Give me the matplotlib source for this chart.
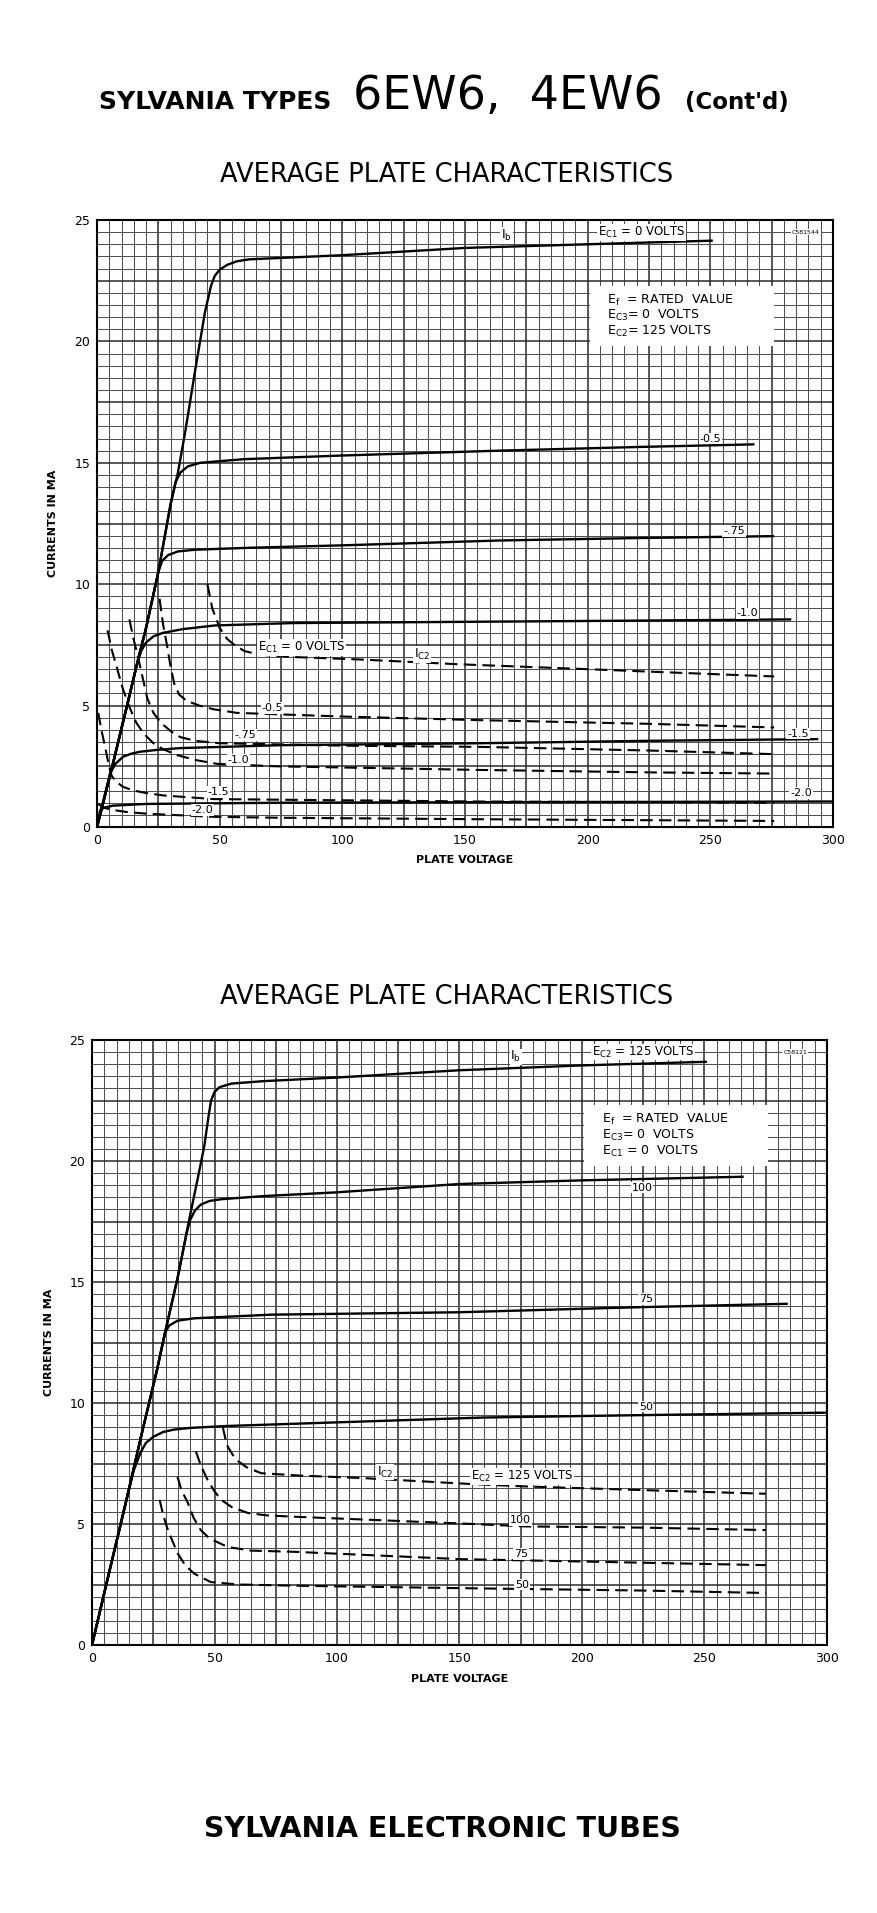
import numpy as np
import matplotlib
matplotlib.use("Agg")
import matplotlib.pyplot as plt
from matplotlib.patches import Rectangle

plt.rcParams['font.family'] = ['DejaVu Sans']
plt.rcParams['mathtext.default'] = 'regular'

# ---------------- upper chart: Ec2 = 125 V, grid-1 voltage varied ----------------
# plate current Ib (solid), plate voltage in V, current in mA
IB0_V = [0, 6, 12, 17, 20, 25, 30, 33, 36, 40, 44, 46.5, 48, 50, 53, 57, 62, 100, 150, 200, 251]
IB0_I = [0, 2.4, 4.9, 7.0, 8.2, 10.5, 13.3, 14.6, 16.3, 18.8, 21.2, 22.3, 22.7, 22.95, 23.15, 23.3, 23.38, 23.55, 23.85, 24.0, 24.15]
IB05_V = [0, 6, 12, 17, 20, 25, 30, 32, 34, 37, 42, 60, 100, 164, 220, 268]
IB05_I = [0, 2.4, 4.9, 7.0, 8.2, 10.5, 13.3, 14.2, 14.6, 14.85, 15.0, 15.15, 15.3, 15.5, 15.65, 15.76]
IB075_V = [0, 6, 12, 17, 20, 25, 26.5, 29, 33, 40, 62, 100, 164, 220, 276]
IB075_I = [0, 2.4, 4.9, 7.0, 8.2, 10.5, 10.95, 11.2, 11.35, 11.42, 11.5, 11.6, 11.8, 11.9, 11.98]
IB10_V = [0, 6, 12, 16, 18, 20, 23, 27, 35, 48, 80, 150, 220, 283]
IB10_I = [0, 2.4, 4.9, 6.6, 7.25, 7.6, 7.85, 8.0, 8.15, 8.3, 8.4, 8.45, 8.5, 8.55]
IB15_V = [0, 5.3, 7.5, 10.7, 14, 17.5, 25, 34, 75, 156, 225, 294]
IB15_I = [0, 2.2, 2.6, 2.9, 3.02, 3.1, 3.18, 3.25, 3.37, 3.45, 3.55, 3.62]
IB20_V = [0, 1.3, 3, 6.6, 20, 75, 150, 300]
IB20_I = [0, 0.7, 0.8, 0.88, 0.95, 1.0, 1.02, 1.05]

# screen current Ic2 (dashed)
IC0_V = [45, 47, 50, 53, 56, 60, 66, 80, 107, 148, 200, 225, 276]
IC0_I = [10.0, 9.0, 8.2, 7.75, 7.5, 7.25, 7.1, 7.0, 6.9, 6.7, 6.5, 6.4, 6.2]
IC05_V = [25.5, 27, 28.5, 30, 31.5, 33.5, 36.5, 41.7, 47.5, 57, 100, 156, 225, 276]
IC05_I = [9.4, 8.3, 7.5, 6.6, 5.9, 5.45, 5.2, 5.0, 4.85, 4.7, 4.55, 4.4, 4.25, 4.1]
IC075_V = [13.2, 15, 16.5, 18.5, 20.5, 23, 26, 30, 34, 40, 50, 100, 156, 225, 276]
IC075_I = [8.55, 7.7, 7.1, 6.2, 5.3, 4.7, 4.3, 3.95, 3.7, 3.55, 3.45, 3.35, 3.3, 3.15, 3.0]
IC10_V = [4.3, 6, 8, 10.5, 13.4, 16, 19, 23, 27, 33, 40.6, 49, 73, 156, 225, 276]
IC10_I = [8.1, 7.3, 6.6, 5.7, 4.9, 4.3, 3.85, 3.45, 3.2, 2.95, 2.75, 2.6, 2.5, 2.35, 2.25, 2.2]
IC15_V = [0.5, 2, 3.3, 4.7, 6, 8, 10.7, 15, 20, 27, 47.5, 100, 156, 276]
IC15_I = [4.7, 3.9, 3.3, 2.6, 2.1, 1.85, 1.65, 1.5, 1.4, 1.3, 1.15, 1.1, 1.05, 1.0]
IC20_V = [0.5, 2.5, 6.6, 12, 20, 30, 47.5, 75, 156, 276]
IC20_I = [0.95, 0.8, 0.7, 0.62, 0.55, 0.5, 0.42, 0.38, 0.32, 0.25]

# ---------------- lower chart: Ec1 = 0 V, screen voltage varied ----------------
B_IB125_V = [0, 7, 14.3, 20, 26.6, 29.8, 35, 39.3, 43, 45.8, 47.5, 48.6, 50, 52, 57, 70, 100, 150, 200, 251]
B_IB125_I = [0, 3.0, 6.1, 8.6, 11.4, 12.9, 15.2, 17.4, 19.2, 20.6, 21.8, 22.5, 22.85, 23.05, 23.2, 23.3, 23.45, 23.75, 23.95, 24.1]
B_IB100_V = [0, 7, 14.3, 20, 26.6, 29.8, 35, 38.6, 40, 42, 44.4, 48, 52.7, 70, 99, 150, 200, 266]
B_IB100_I = [0, 3.0, 6.1, 8.6, 11.4, 12.9, 15.2, 17.0, 17.55, 17.95, 18.2, 18.35, 18.42, 18.55, 18.7, 19.05, 19.2, 19.35]
B_IB75_V = [0, 7, 14.3, 20, 26.6, 29.8, 31.5, 34.9, 41.7, 73, 150, 220, 284]
B_IB75_I = [0, 3.0, 6.1, 8.6, 11.4, 12.9, 13.2, 13.4, 13.5, 13.65, 13.75, 13.95, 14.1]
B_IB50_V = [0, 7, 14.3, 17, 19.8, 22, 25, 29, 33.4, 40, 55, 100, 160, 225, 300]
B_IB50_I = [0, 3.0, 6.1, 7.2, 7.95, 8.35, 8.6, 8.8, 8.9, 8.97, 9.05, 9.2, 9.4, 9.5, 9.6]

B_IC125_V = [53.4, 54.5, 55.4, 57.5, 59.6, 63, 69, 85, 110, 155, 177.5, 225, 275]
B_IC125_I = [9.0, 8.5, 8.2, 7.85, 7.6, 7.35, 7.1, 7.0, 6.9, 6.65, 6.55, 6.4, 6.25]
B_IC100_V = [42.4, 44.5, 47.3, 50, 52.7, 57, 63.8, 72, 82.8, 155.6, 177, 225, 275]
B_IC100_I = [8.0, 7.4, 6.8, 6.35, 6.0, 5.7, 5.45, 5.35, 5.3, 5.0, 4.9, 4.85, 4.75]
B_IC75_V = [34.9, 36.5, 39, 41.5, 44.4, 48, 55.4, 65, 82.8, 150, 225, 275]
B_IC75_I = [6.95, 6.4, 5.9, 5.25, 4.75, 4.4, 4.05, 3.9, 3.85, 3.55, 3.4, 3.3]
B_IC50_V = [27.6, 29, 30.5, 32, 34.9, 38, 41.7, 48.5, 60, 82.8, 150, 225, 275]
B_IC50_I = [6.0, 5.4, 4.9, 4.5, 3.8, 3.3, 2.95, 2.6, 2.5, 2.45, 2.35, 2.25, 2.15]

X_TICKS = [0, 50, 100, 150, 200, 250, 300]
Y_TICKS = [0, 5, 10, 15, 20, 25]

DASH = (0, (6, 3))


def graph_paper(ax):
    # graph paper: fine rulings every 5 V / 0.5 mA, heavier every 25 V / 2.5 mA
    for v in np.arange(5, 300, 5):
        heavy = v % 25 == 0
        ax.axvline(v, color='#2a2a2a' if heavy else '#505050',
                   lw=1.1 if heavy else 0.75, zorder=0.5)
    for c in np.arange(0.5, 25, 0.5):
        heavy = abs(c / 2.5 - round(c / 2.5)) < 1e-6
        ax.axhline(c, color='#2a2a2a' if heavy else '#505050',
                   lw=1.1 if heavy else 0.75, zorder=0.5)
    ax.set_xlim(0, 300)
    ax.set_ylim(0, 25)
    ax.set_xticks(X_TICKS)
    ax.set_yticks(Y_TICKS)
    ax.tick_params(length=0, pad=5, labelsize=9)
    for s in ax.spines.values():
        s.set_linewidth(1.5)
        s.set_color('black')
    ax.set_xlabel('PLATE VOLTAGE', fontsize=8, fontweight='bold')
    ax.set_ylabel('CURRENTS IN MA', fontsize=8, fontweight='bold')


def lbl(ax, x, y, s, size=8.5):
    ax.text(x, y, s, ha='center', va='center', fontsize=size, zorder=6,
            bbox=dict(fc='white', ec='none', pad=0.6))


def note_box(ax, lines):
    ax.add_patch(Rectangle((201, 19.8), 75, 2.5, fc='white', ec='none', zorder=2))
    for k, s in enumerate(lines):
        ax.text(208, 21.7 - 0.65 * k, s, ha='left', va='center', fontsize=9, zorder=6)


fig = plt.figure(figsize=(8.78, 19.13), dpi=100)

# headings
fig.text(0.113, 0.943, 'SYLVANIA TYPES', fontsize=18, fontweight='bold', ha='left', va='baseline')
fig.text(0.402, 0.943, '6EW6,  4EW6', fontsize=33, ha='left', va='baseline')
fig.text(0.780, 0.943, "(Cont'd)", fontsize=16.5, fontweight='bold', ha='left', va='baseline')
fig.text(0.509, 0.9083, 'AVERAGE PLATE CHARACTERISTICS', fontsize=18.5, ha='center', va='center')
fig.text(0.509, 0.479, 'AVERAGE PLATE CHARACTERISTICS', fontsize=18.5, ha='center', va='center')
fig.text(0.504, 0.044, 'SYLVANIA ELECTRONIC TUBES', fontsize=20.5, fontweight='bold',
         ha='center', va='center')

# ---------------- upper chart ----------------
ax1 = fig.add_axes([97 / 878, 1 - 827 / 1913, 736 / 878, 607 / 1913])
graph_paper(ax1)
ax1.yaxis.set_label_coords(-0.053, 0.5)
ax1.xaxis.set_label_coords(0.5, -0.046)

for v, i in [(IB0_V, IB0_I), (IB05_V, IB05_I), (IB075_V, IB075_I),
             (IB10_V, IB10_I), (IB15_V, IB15_I), (IB20_V, IB20_I)]:
    ax1.plot(v, i, color='black', lw=1.7, zorder=3, solid_capstyle='butt')
for v, i in [(IC0_V, IC0_I), (IC05_V, IC05_I), (IC075_V, IC075_I),
             (IC10_V, IC10_I), (IC15_V, IC15_I), (IC20_V, IC20_I)]:
    ax1.plot(v, i, color='black', lw=1.5, ls=DASH, zorder=3)

lbl(ax1, 167, 24.35, r'I$_{b}$', 9)
lbl(ax1, 222, 24.5, r'E$_{C1}$ = 0 VOLTS')
lbl(ax1, 289, 24.5, 'C581544', 4.5)
note_box(ax1, [r'E$_{f}$  = RATED  VALUE', r'E$_{C3}$= 0  VOLTS', r'E$_{C2}$= 125 VOLTS'])
lbl(ax1, 250, 16.0, '-0.5', 8)
lbl(ax1, 259.6, 12.2, '-.75', 8)
lbl(ax1, 265, 8.8, '-1.0', 8)
lbl(ax1, 285.7, 3.85, '-1.5', 8)
lbl(ax1, 287, 1.4, '-2.0', 8)
lbl(ax1, 83.5, 7.4, r'E$_{C1}$ = 0 VOLTS')
lbl(ax1, 132.6, 7.1, r'I$_{C2}$', 9)
lbl(ax1, 71.4, 4.9, '-0.5', 8)
lbl(ax1, 60.4, 3.8, '-.75', 8)
lbl(ax1, 57.6, 2.75, '-1.0', 8)
lbl(ax1, 49.4, 1.45, '-1.5', 8)
lbl(ax1, 42.9, 0.7, '-2.0', 8)

# ---------------- lower chart ----------------
ax2 = fig.add_axes([92 / 878, 1 - 1645 / 1913, 735 / 878, 605 / 1913])
graph_paper(ax2)
ax2.yaxis.set_label_coords(-0.052, 0.5)
ax2.xaxis.set_label_coords(0.5, -0.048)

for v, i in [(B_IB125_V, B_IB125_I), (B_IB100_V, B_IB100_I),
             (B_IB75_V, B_IB75_I), (B_IB50_V, B_IB50_I)]:
    ax2.plot(v, i, color='black', lw=1.7, zorder=3, solid_capstyle='butt')
for v, i in [(B_IC125_V, B_IC125_I), (B_IC100_V, B_IC100_I),
             (B_IC75_V, B_IC75_I), (B_IC50_V, B_IC50_I)]:
    ax2.plot(v, i, color='black', lw=1.5, ls=DASH, zorder=3)

lbl(ax2, 173, 24.3, r'I$_{b}$', 9)
lbl(ax2, 225, 24.5, r'E$_{C2}$ = 125 VOLTS')
lbl(ax2, 287, 24.5, 'C58121', 4.5)
note_box(ax2, [r'E$_{f}$  = RATED  VALUE', r'E$_{C3}$= 0  VOLTS', r'E$_{C1}$ = 0  VOLTS'])
lbl(ax2, 224.5, 18.9, '100', 8)
lbl(ax2, 226, 14.3, '75', 8)
lbl(ax2, 226, 9.85, '50', 8)
lbl(ax2, 119.6, 7.15, r'I$_{C2}$', 9)
lbl(ax2, 175.5, 6.95, r'E$_{C2}$ = 125 VOLTS')
lbl(ax2, 175, 5.15, '100', 8)
lbl(ax2, 175, 3.75, '75', 8)
lbl(ax2, 175.5, 2.5, '50', 8)

fig.savefig('out.png', dpi=100)
